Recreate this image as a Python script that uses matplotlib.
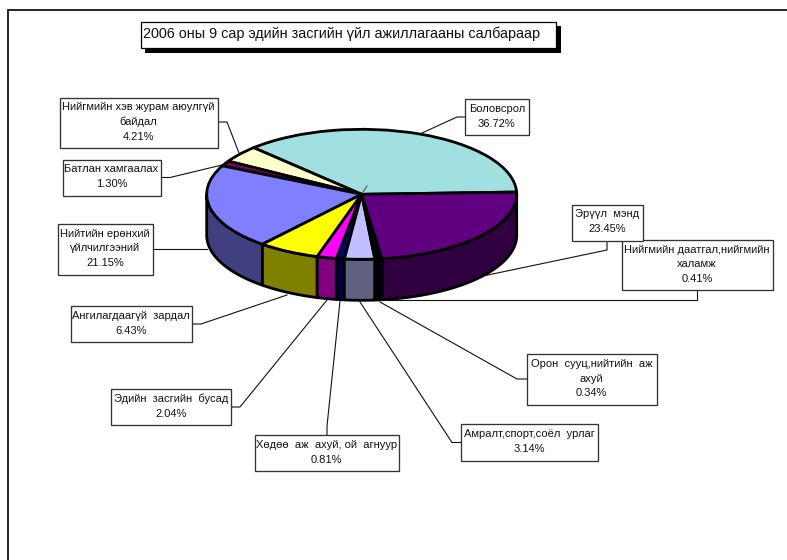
import numpy as np
import matplotlib
matplotlib.use('Agg')
import matplotlib.pyplot as plt
from matplotlib.patches import Rectangle

plt.rcParams['font.family'] = ['Liberation Sans', 'DejaVu Sans']

W, H = 787, 560

TITLE = '2006 оны 9 сар эдийн засгийн үйл ажиллагааны салбараар'

# counter-clockwise, starting from the right hand side of the pie
labels = [
    'Боловсрол',
    'Нийгмийн хэв журам аюулгүй\nбайдал',
    'Батлан хамгаалах',
    'Нийтийн ерөнхий\nүйлчилгээний',
    'Ангилагдаагүй  зардал',
    'Эдийн  засгийн  бусад',
    'Хөдөө  аж  ахуй, ой  агнуур',
    'Амралт,спорт,соёл  урлаг',
    'Орон  сууц,нийтийн  аж\nахуй',
    'Нийгмийн даатгал,нийгмийн\nхаламж',
    'Эрүүл  мэнд',
]
shares = [36.72, 4.21, 1.30, 21.15, 6.43, 2.04, 0.81, 3.14, 0.34, 0.41, 23.45]
top_colors = ['#A0E0E0', '#FFFFCC', '#800060', '#8080FF', '#FFFF00', '#FF00FF',
              '#000080', '#C0C0FF', '#000080', '#000060', '#600080']
side_colors = ['#507070', '#808066', '#400030', '#404080', '#808000', '#800080',
               '#000040', '#606080', '#000040', '#000030', '#300040']

# label boxes in pixels: left, top, right, bottom
boxes = [
    (465, 99, 528.5, 135),
    (59.5, 97.5, 217.5, 148),
    (62.5, 159.5, 160.5, 195.5),
    (58, 223.5, 152.5, 274.5),
    (70.5, 306, 192, 342),
    (111, 389, 231, 425),
    (254.5, 435, 399, 471),
    (461, 424, 598, 460.5),
    (526.5, 354, 656.5, 405),
    (621.5, 240, 772.5, 290),
    (572, 204.5, 643, 240.5),
]
leaders = [
    [(465, 117), (457, 117), (422, 133)],
    [(217.5, 122), (227, 122), (239, 153)],
    [(160.5, 177.5), (170, 177.5), (222, 165)],
    [(152.5, 248.5), (207, 248.5)],
    [(192, 324), (201, 324), (287, 295)],
    [(231, 407), (240, 407), (327, 300)],
    [(327, 435), (327, 426), (340, 301)],
    [(461, 442.5), (452, 442.5), (360, 302)],
    [(526.5, 379), (517, 379), (380, 302)],
    [(697, 290), (697, 300), (380, 300)],
    [(607, 240.5), (607, 250), (483, 276)],
]

# pie geometry in pixels
cx, cy, rx, ry, depth = 361.7, 194.3, 155, 65, 41
start = 2

fig = plt.figure(figsize=(W / 100, H / 100), dpi=100)

ax = fig.add_axes([(cx - rx) / W, 1 - (cy + ry + depth) / H, 2 * rx / W, (2 * ry + depth) / H])
d = depth / ry

# side walls, only the front half of the rim can be seen
edges = start + np.concatenate([[0], np.cumsum(shares)]) * 3.6
for i in range(len(shares)):
    a0, a1 = max(edges[i], 180), min(edges[i + 1], 360)
    if a1 <= a0:
        continue
    t = np.radians(np.linspace(a0, a1, 60))
    xs = np.concatenate([np.cos(t), np.cos(t[::-1])])
    ys = np.concatenate([np.sin(t), np.sin(t[::-1]) - d])
    ax.fill(xs, ys, facecolor=side_colors[i], edgecolor='black', linewidth=2.0,
            joinstyle='round', clip_on=False)

wedges, _ = ax.pie(shares, colors=top_colors, startangle=start, radius=1, frame=False,
                   wedgeprops={'edgecolor': 'black', 'linewidth': 2.0, 'joinstyle': 'round'})
for w in wedges:
    w.set_clip_on(False)
ax.set_aspect('auto')
ax.set_xlim(-1, 1)
ax.set_ylim(-1 - d, 1)
ax.axis('off')

# overlay in pixel coordinates for frame, boxes and leader lines
ov = fig.add_axes([0, 0, 1, 1])
ov.set_xlim(0, W)
ov.set_ylim(H, 0)
ov.axis('off')

ov.plot([8, 8, W], [H, 10, 10], color='black', lw=1.2, solid_joinstyle='miter')
ov.plot([363, 367], [192, 186], color='#555555', lw=0.8)

for pts in leaders:
    xs, ys = zip(*pts)
    ov.plot(xs, ys, color='#111111', lw=0.8)

for lab, val, (x0, y0, x1, y1) in zip(labels, shares, boxes):
    ov.add_patch(Rectangle((x0, y0), x1 - x0, y1 - y0, facecolor='white',
                           edgecolor='#333333', lw=0.95, zorder=3))
    ov.text((x0 + x1) / 2, (y0 + y1) / 2 - 0.8, f'{lab}\n{val:.2f}%', ha='center', va='center',
            fontsize=8.05, color='#111111', linespacing=1.58, zorder=4)

# title box with its drop shadow
ov.add_patch(Rectangle((145, 26), 416, 26.7, facecolor='black', edgecolor='none', zorder=3))
ov.add_patch(Rectangle((140.5, 21.5), 415, 26, facecolor='white', edgecolor='black', lw=0.9, zorder=4))
ov.text(341.5, 33.5, TITLE, ha='center', va='center', fontsize=10.4, color='#111111', zorder=5)

fig.savefig('out.png', dpi=100)
